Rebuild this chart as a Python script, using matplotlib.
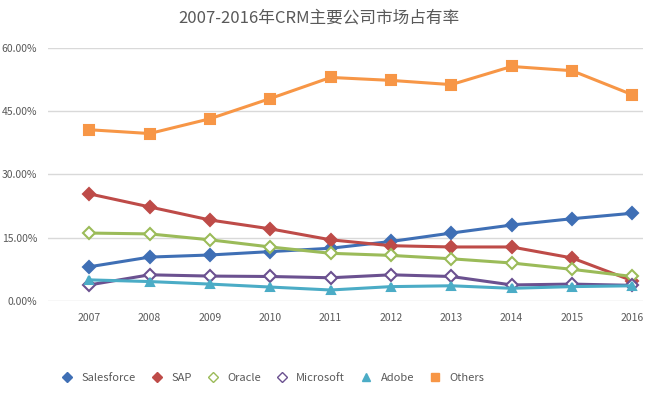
import matplotlib.pyplot as plt
from matplotlib.lines import Line2D

plt.rcParams['font.family'] = ['Noto Sans CJK SC', 'DejaVu Sans']

# data (market share, %)
years = ['2007', '2008', '2009', '2010', '2011', '2012', '2013', '2014', '2015', '2016']
salesforce = [8.1, 10.4, 10.9, 11.7, 12.5, 14.1, 16.1, 18.0, 19.5, 20.8]
sap = [25.4, 22.3, 19.2, 17.1, 14.5, 13.1, 12.8, 12.8, 10.2, 4.8]
oracle = [16.1, 15.9, 14.5, 12.8, 11.3, 10.8, 10.0, 9.0, 7.5, 5.8]
microsoft = [3.8, 6.2, 5.9, 5.8, 5.5, 6.2, 5.8, 3.8, 4.0, 3.7]
adobe = [5.0, 4.6, 4.0, 3.3, 2.6, 3.4, 3.6, 3.0, 3.4, 3.6]
others = [40.6, 39.7, 43.2, 48.0, 53.0, 52.3, 51.3, 55.6, 54.6, 48.9]
yticks = [0, 15, 30, 45, 60]

x = list(range(len(years)))

fig = plt.figure(figsize=(6.51, 3.96), dpi=100)
ax = fig.add_axes([0.074, 0.24, 0.914, 0.639])

# (label, values, line colour, marker, face, size)
series = [
    ('Salesforce', salesforce, '#3f6fb5', 'D', '#3f6fb5', 6),
    ('SAP', sap, '#be4b48', 'D', '#be4b48', 6),
    ('Oracle', oracle, '#9bbb59', 'D', 'white', 6.5),
    ('Microsoft', microsoft, '#6b5190', 'D', 'white', 6.5),
    ('Adobe', adobe, '#4bacc6', '^', '#4bacc6', 6),
    ('Others', others, '#f79646', 's', '#f79646', 6.5),
]

handles = []
for name, vals, col, mk, face, ms in series:
    ax.plot(x, vals, color=col, linewidth=2.2, marker=mk, markersize=ms,
            markerfacecolor=face, markeredgecolor=col, markeredgewidth=1.5, zorder=3)
    handles.append(Line2D([], [], linestyle='none', marker=mk, markersize=5.5,
                          markerfacecolor=face, markeredgecolor=col,
                          markeredgewidth=1, label=name))

ax.set_xlim(-0.68, 9.18)
ax.set_ylim(0, 60)
ax.set_xticks(x)
ax.set_xticklabels(years)
ax.set_yticks(yticks)
ax.set_yticklabels(['%.2f%%' % v for v in yticks])
ax.tick_params(length=0, labelsize=7.5, colors='#595959')
ax.tick_params(axis='x', pad=9)
ax.tick_params(axis='y', pad=8)
for s in ax.spines.values():
    s.set_visible(False)
ax.grid(axis='y', color='#d9d9d9', linewidth=1)
ax.set_axisbelow(True)

fig.text(0.49, 0.955, '2007-2016年CRM主要公司市场占有率', ha='center', va='center',
         fontsize=12, color='#595959')

fig.legend(handles=handles, loc='center', bbox_to_anchor=(0.415, 0.045), ncol=6,
           frameon=False, fontsize=8, labelcolor='#595959', handletextpad=0.3,
           columnspacing=0.9)

fig.savefig('out.png', dpi=100)
